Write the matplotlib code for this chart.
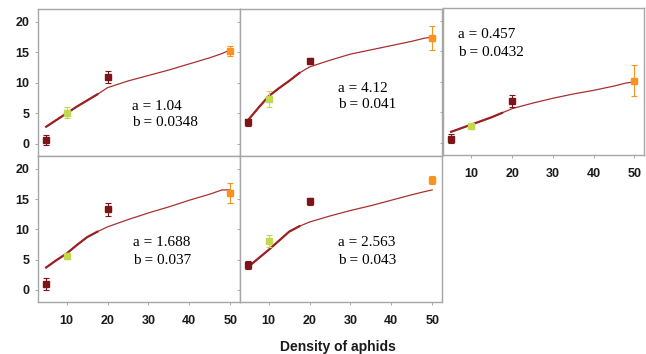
import numpy as np
import matplotlib.pyplot as plt

# aphid densities offered
density = [5, 10, 20, 50]
point_colors = ["#7d1518", "#c3d84c", "#7d1518", "#f7931e"]

# observed means and error bars per panel
p1_y = [0.6, 5.1, 11.0, 15.2]
p1_err = [0.8, 0.9, 1.0, 0.8]
p2_y = [3.5, 7.4, 13.6, 17.3]
p2_err = [0.5, 1.3, 0.5, 2.0]
p3_y = [0.7, 2.7, 6.9, 10.2]
p3_err = [0.7, 0.5, 1.0, 2.5]
p4_y = [0.9, 5.6, 13.3, 16.0]
p4_err = [1.0, 0.5, 1.1, 1.7]
p5_y = [4.1, 8.1, 14.6, 18.1]
p5_err = [0.7, 1.0, 0.6, 0.7]

# fitted curves
curve_x = [5, 7.5, 10, 12.5, 15, 17.5, 20, 25, 30, 35, 40, 45, 48, 50]
c1 = [2.8, 3.9, 5.0, 6.1, 7.1, 8.1, 9.2, 10.3, 11.2, 12.1, 13.1, 14.1, 14.8, 15.4]
c2 = [3.9, 5.9, 7.8, 9.1, 10.3, 11.6, 12.6, 13.7, 14.7, 15.4, 16.1, 16.8, 17.3, 17.5]
c3 = [1.8, 2.4, 3.0, 3.6, 4.2, 4.9, 5.6, 6.5, 7.3, 8.0, 8.6, 9.3, 9.8, 10.0]
c4 = [3.7, 4.9, 6.0, 7.4, 8.7, 9.6, 10.4, 11.6, 12.7, 13.7, 14.8, 15.8, 16.5, 16.5]
c5 = [3.8, 5.2, 6.6, 8.1, 9.6, 10.5, 11.2, 12.2, 13.1, 13.9, 14.8, 15.7, 16.2, 16.5]

a_labels = ["a = 1.04", "a = 4.12", "a = 0.457", "a = 1.688", "a = 2.563"]
b_labels = ["b = 0.0348", "b = 0.041", "b = 0.0432", "b = 0.037", "b = 0.043"]

W, H = 646, 354
fig = plt.figure(figsize=(W / 100, H / 100), dpi=100)

def box(x0, y0, x1, y1):
    return [x0 / W, 1 - y1 / H, (x1 - x0) / W, (y1 - y0) / H]

specs = [
    (box(38, 9, 240, 156), p1_y, p1_err, c1, (132, 106), True, False),
    (box(240, 9, 442, 156), p2_y, p2_err, c2, (338, 88), False, False),
    (box(443, 8, 644, 155), p3_y, p3_err, c3, (458, 35), False, True),
    (box(38, 156, 240, 302), p4_y, p4_err, c4, (133, 243), True, True),
    (box(240, 156, 442, 302), p5_y, p5_err, c5, (338, 243), False, True),
]

for i, (rect, ys, errs, curve, tpos, ylab, xlab) in enumerate(specs):
    ax = fig.add_axes(rect)
    ax.plot(curve_x, curve, color="#a8302f", lw=0.9, zorder=2)
    short = [v for v in curve_x if v <= 17.5]
    ax.plot(short, curve[:len(short)], color="#9a2224", lw=1.6, zorder=2)
    for xv, yv, ev, col in zip(density, ys, errs, point_colors):
        ax.errorbar(xv, yv, yerr=ev, fmt="s", color=col, ms=5, elinewidth=0.8,
                    capsize=2, capthick=0.8, zorder=3)
    ax.set_xlim(3, 52.4)
    ax.set_ylim(-2, 22.1)
    ax.set_xticks([10, 20, 30, 40, 50])
    ax.set_yticks([0, 5, 10, 15, 20])
    ax.tick_params(length=2.5, width=0.6, color="#999999", labelsize=9,
                   labelcolor="#1a1a1a")
    ax.tick_params(axis="x", pad=7)
    if not xlab:
        ax.set_xticklabels([])
    if not ylab:
        ax.set_yticklabels([])
    for lbl in ax.get_xticklabels() + ax.get_yticklabels():
        lbl.set_fontweight("bold")
        lbl.set_family("Liberation Sans")
    for s in ax.spines.values():
        s.set_color("#a6a6a6")
        s.set_linewidth(1.0)
    fig.text(tpos[0] / W, 1 - tpos[1] / H, a_labels[i],
             family="Liberation Serif", fontsize=11, va="center", ha="left")
    fig.text(tpos[0] / W, 1 - (tpos[1] + 17) / H, b_labels[i],
             family="Liberation Serif", fontsize=11, va="center", ha="left")

fig.text(338 / W, 1 - 347 / H, "Density of aphids", family="Liberation Sans",
         fontweight="bold", fontsize=10, ha="center", va="center", color="#1a1a1a")

fig.savefig("out.png", dpi=100)
